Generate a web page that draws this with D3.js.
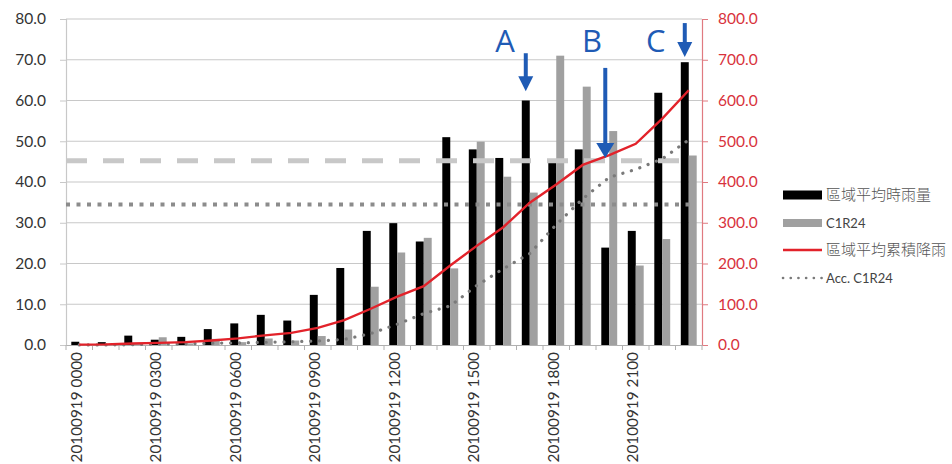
<!DOCTYPE html>
<html><head><meta charset="utf-8">
<script src="https://cdn.jsdelivr.net/npm/d3@7"></script>
<style>
body{margin:0;background:#fff;}
svg{display:block;}
</style></head>
<body>
<svg id="chart" width="952" height="464"></svg>
<script>
const categories = ["20100919 0000","20100919 0100","20100919 0200","20100919 0300","20100919 0400","20100919 0500",
  "20100919 0600","20100919 0700","20100919 0800","20100919 0900","20100919 1000","20100919 1100",
  "20100919 1200","20100919 1300","20100919 1400","20100919 1500","20100919 1600","20100919 1700",
  "20100919 1800","20100919 1900","20100919 2000","20100919 2100","20100919 2200","20100919 2300"];
const hourlyRain = [0.8,0.7,2.3,1.3,2.0,3.9,5.3,7.4,6.0,12.3,18.9,28.0,29.9,25.4,51.0,48.0,45.9,60.0,44.8,48.0,23.9,28.0,61.9,69.4];
const c1r24 = [0.1,0.2,0.3,1.9,0.4,1.5,0.7,1.6,1.1,2.2,3.8,14.3,22.7,26.3,18.8,49.9,41.3,37.4,71.0,63.4,52.5,19.5,26.0,46.5];
const accRain = [0.8,1.5,3.8,5.1,7.1,11.0,16.3,23.7,29.7,42.0,60.9,88.9,118.8,144.2,195.2,243.2,289.1,349.1,393.9,441.9,465.8,493.8,555.7,625.1];
const accC1R24 = [0.1,0.3,0.6,2.5,2.9,4.4,5.1,6.7,7.8,10.0,13.8,28.1,50.8,77.1,95.9,145.8,187.1,224.5,295.5,358.9,411.4,430.9,456.9,503.4];
const leftTicks = [0,10,20,30,40,50,60,70,80];
const rightTicks = [0,100,200,300,400,500,600,700,800];
const refDashedValue = 45.2;
const refDottedValue = 34.5;
const legendLabels = ["區域平均時雨量","C1R24","區域平均累積降雨","Acc. C1R24"];
const annLabels = ["A","B","C"];
const annCategory = [17,20,23];
const annLabelPos = [16.57,19.85,22.26];
const annLabelValue = [71.9,71.9,71.9];
const annTailValue = [71.6,68.0,79.0];
const annTipValue = [62.3,45.9,70.7];

const svg = d3.select("#chart");
const L = 66, R = 702, T = 19, B = 345;

const x = d3.scaleBand().domain(categories).range([L, R]).padding(0);
const xc = d3.scaleLinear().domain([0, categories.length]).range([L, R]);
const yL = d3.scaleLinear().domain([0, 80]).range([B, T]);
const yR = d3.scaleLinear().domain([0, 800]).range([B, T]);
const bw = x.bandwidth() * 0.3;

const font = "Lato, 'Open Sans', sans-serif";

// gridlines
svg.append("g").selectAll("line").data(leftTicks.filter(d => d > 0)).join("line")
  .attr("x1", L).attr("x2", R).attr("y1", d => yL(d)).attr("y2", d => yL(d))
  .attr("stroke", "#c8c8c8").attr("stroke-width", 1.2);

// left axis
const gL = svg.append("g").attr("transform", `translate(${L},0)`)
  .call(d3.axisLeft(yL).tickValues(leftTicks).tickFormat(d3.format(".1f")).tickSize(6).tickPadding(14));
gL.select(".domain").attr("stroke", "#c8c8c8").attr("stroke-width", 1.2);
gL.selectAll(".tick line").attr("stroke", "#c8c8c8");
gL.selectAll("text").attr("font-family", font).attr("font-size", 15.5).attr("fill", "#333");

// right axis
const gR = svg.append("g").attr("transform", `translate(${R},0)`)
  .call(d3.axisRight(yR).tickValues(rightTicks).tickFormat(d3.format(".1f")).tickSize(6).tickPadding(10));
gR.select(".domain").attr("stroke", "#e07a80").attr("stroke-width", 1.2);
gR.selectAll(".tick line").attr("stroke", "#e07a80");
gR.selectAll("text").attr("font-family", font).attr("font-size", 15.5).attr("fill", "#d8323c");

// bottom axis
const gX = svg.append("g").attr("transform", `translate(0,${B})`)
  .call(d3.axisBottom(x).tickValues([]).tickSize(0));
gX.select(".domain").attr("stroke", "#b0b0b0").attr("stroke-width", 1.2);
svg.append("g").selectAll("line").data(d3.range(categories.length + 1)).join("line")
  .attr("x1", d => xc(d)).attr("x2", d => xc(d)).attr("y1", B).attr("y2", B + 5)
  .attr("stroke", "#b0b0b0");
svg.append("g").selectAll("text").data(categories.filter((d, i) => i % 3 === 0)).join("text")
  .attr("transform", d => `translate(${x(d) + x.bandwidth() / 2 - 3},${B + 7}) rotate(-90)`)
  .attr("text-anchor", "end").attr("dy", "0.35em")
  .attr("font-family", font).attr("font-size", 15.3).attr("fill", "#333")
  .text(d => d);

// bars
svg.append("g").selectAll("rect").data(hourlyRain).join("rect")
  .attr("x", (d, i) => x(categories[i]) + x.bandwidth() / 2 - bw)
  .attr("width", bw).attr("y", d => yL(d)).attr("height", d => B - yL(d))
  .attr("fill", "#000");
svg.append("g").selectAll("rect").data(c1r24).join("rect")
  .attr("x", (d, i) => x(categories[i]) + x.bandwidth() / 2)
  .attr("width", bw).attr("y", d => yL(d)).attr("height", d => B - yL(d))
  .attr("fill", "#a0a0a0");

// reference lines
svg.append("line").attr("x1", L).attr("x2", x(categories[23]) + x.bandwidth() / 2)
  .attr("y1", yL(refDashedValue)).attr("y2", yL(refDashedValue))
  .attr("stroke", "#c8c8c8").attr("stroke-width", 5).attr("stroke-dasharray", "21,16");
svg.append("line").attr("x1", L).attr("x2", x(categories[23]) + x.bandwidth() / 2 + 2)
  .attr("y1", yL(refDottedValue)).attr("y2", yL(refDottedValue))
  .attr("stroke", "#8c8c8c").attr("stroke-width", 4).attr("stroke-dasharray", "4,6.5");

// cumulative lines
const lineR = d3.line().x((d, i) => x(categories[i]) + x.bandwidth() / 2).y(d => yR(d));
svg.append("path").datum(accC1R24).attr("d", lineR)
  .attr("fill", "none").attr("stroke", "#7a7a7a").attr("stroke-width", 3.2)
  .attr("stroke-linecap", "round").attr("stroke-dasharray", "0.1,8.8");
svg.append("path").datum(accRain).attr("d", lineR)
  .attr("fill", "none").attr("stroke", "#e2222a").attr("stroke-width", 2.4);

// legend
const lg = svg.append("g");
const ly = [195, 223, 250, 278];
lg.append("rect").attr("x", 783).attr("y", ly[0] - 4.5).attr("width", 39).attr("height", 9).attr("fill", "#000");
lg.append("rect").attr("x", 783).attr("y", ly[1] - 4).attr("width", 39).attr("height", 8).attr("fill", "#a0a0a0");
lg.append("line").attr("x1", 783).attr("x2", 822).attr("y1", ly[2]).attr("y2", ly[2]).attr("stroke", "#e2222a").attr("stroke-width", 2.4);
lg.append("line").attr("x1", 783).attr("x2", 822).attr("y1", ly[3]).attr("y2", ly[3])
  .attr("stroke", "#7a7a7a").attr("stroke-width", 2.6).attr("stroke-linecap", "round").attr("stroke-dasharray", "0.1,7.6");
lg.selectAll("text").data(legendLabels).join("text")
  .attr("x", 826).attr("y", (d, i) => ly[i]).attr("dy", "0.35em")
  .attr("font-family", (d, i) => i % 2 === 0 ? "'Noto Sans CJK TC', sans-serif" : font)
  .attr("font-weight", (d, i) => i % 2 === 0 ? 300 : 400)
  .attr("font-size", (d, i) => i % 2 === 0 ? 15 : 13)
  .attr("fill", (d, i) => i % 2 === 0 ? "#555" : "#444").text(d => d);

// annotations
const blue = "#1f5bb5";
const ann = svg.append("g");
annLabels.forEach((lab, i) => {
  const ax = x(categories[annCategory[i]]) + x.bandwidth() / 2 - bw / 2;
  const ty = yL(annTailValue[i]), py = yL(annTipValue[i]);
  const headH = 15, headW = i === 1 ? 18 : 15;
  ann.append("line").attr("x1", ax).attr("x2", ax).attr("y1", ty).attr("y2", py - headH + 1)
    .attr("stroke", blue).attr("stroke-width", 4);
  ann.append("path")
    .attr("d", `M${ax - headW / 2},${py - headH} L${ax + headW / 2},${py - headH} L${ax},${py} Z`)
    .attr("fill", blue);
  ann.append("text").attr("x", xc(annLabelPos[i])).attr("y", yL(annLabelValue[i]))
    .attr("text-anchor", "middle").attr("font-family", "'Open Sans', sans-serif")
    .attr("font-size", 31).attr("fill", blue).text(lab);
});
</script>
</body></html>
